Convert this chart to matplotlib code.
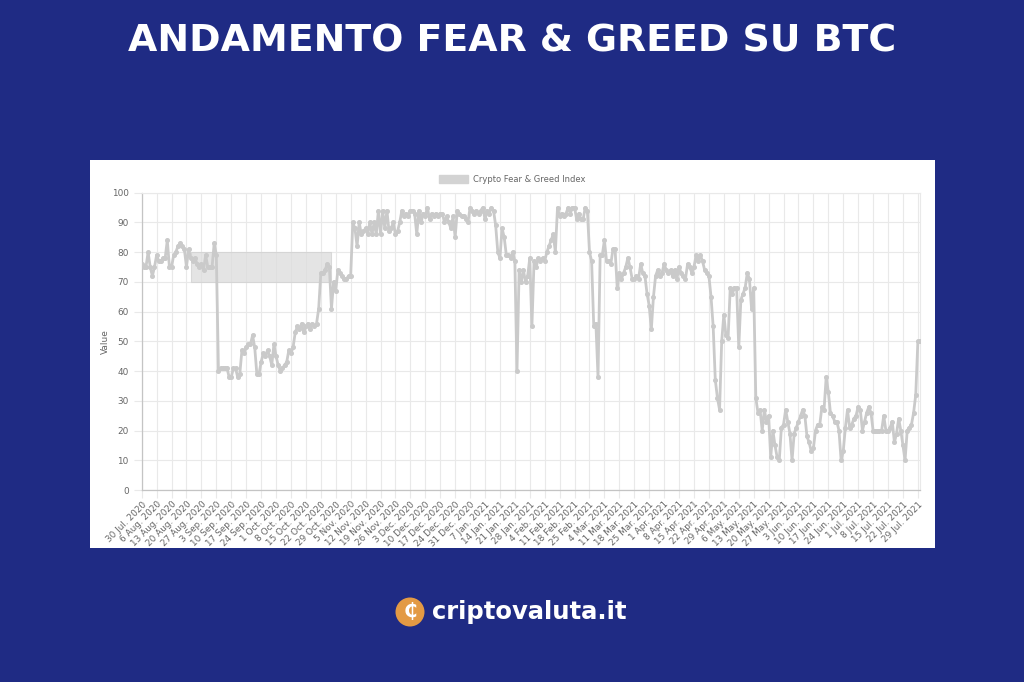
import pandas as pd
import matplotlib
matplotlib.use("Agg")
import matplotlib.pyplot as plt
from matplotlib.patches import Rectangle, Circle, Patch

# daily Fear & Greed values, 30 Jul 2020 -> 30 Jul 2021 (one row = one week)
start_date = "2020-07-30"
fng_values = [
    76, 75, 75, 80, 75, 72, 75,
    79, 77, 77, 78, 78, 84, 75,
    75, 79, 80, 82, 83, 82, 81,
    75, 81, 78, 77, 78, 76, 75,
    76, 74, 79, 75, 75, 75, 83,
    79, 40, 41, 41, 41, 41, 38,
    38, 41, 41, 38, 39, 47, 46,
    48, 49, 49, 52, 48, 39, 39,
    43, 46, 45, 47, 45, 42, 49,
    45, 42, 40, 41, 42, 43, 47,
    46, 48, 53, 55, 54, 56, 53,
    55, 56, 54, 56, 55, 56, 61,
    73, 73, 74, 76, 75, 61, 70,
    67, 74, 73, 72, 71, 71, 72,
    72, 90, 88, 82, 90, 86, 87,
    88, 86, 90, 86, 90, 86, 94,
    86, 94, 88, 94, 87, 88, 90,
    86, 87, 90, 94, 92, 93, 92,
    94, 94, 93, 86, 94, 90, 93,
    92, 95, 91, 93, 92, 93, 92,
    93, 93, 90, 92, 90, 88, 92,
    85, 94, 93, 92, 92, 91, 90,
    95, 94, 93, 94, 93, 94, 95,
    91, 94, 93, 95, 94, 89, 80,
    78, 88, 85, 79, 79, 78, 80,
    77, 40, 74, 70, 74, 70, 72,
    78, 55, 77, 75, 78, 77, 78,
    77, 80, 82, 84, 86, 80, 95,
    92, 93, 92, 93, 95, 93, 95,
    95, 91, 93, 91, 91, 95, 94,
    80, 77, 55, 56, 38, 79, 79,
    84, 77, 77, 76, 81, 81, 68,
    73, 71, 73, 75, 78, 75, 71,
    71, 72, 71, 76, 73, 72, 66,
    62, 54, 65, 72, 74, 72, 73,
    76, 74, 73, 74, 72, 74, 71,
    75, 73, 72, 71, 76, 75, 73,
    75, 79, 77, 79, 77, 74, 73,
    72, 65, 55, 37, 31, 27, 50,
    59, 52, 51, 68, 66, 68, 68,
    48, 64, 66, 68, 73, 71, 61,
    68, 31, 26, 27, 20, 27, 23,
    25, 11, 20, 15, 11, 10, 21,
    22, 27, 23, 19, 10, 19, 21,
    23, 25, 27, 25, 18, 16, 13,
    14, 20, 22, 22, 28, 27, 38,
    33, 26, 25, 23, 23, 20, 10,
    13, 21, 27, 21, 22, 24, 25,
    28, 27, 20, 23, 26, 28, 26,
    20, 20, 20, 20, 20, 25, 20,
    20, 21, 23, 16, 19, 24, 20,
    15, 10, 20, 21, 22, 26, 32,
    50, 50,
]
dates = pd.date_range(start_date, periods=len(fng_values), freq="D")

# weekly tick labels
tick_dates = pd.date_range("2020-07-30", "2021-07-29", freq="7D")
tick_labels = [f"{d.day} {d.strftime('%b')}. {d.year}" for d in tick_dates]

# grey box left on the chart (from the screenshot)
box_start = pd.Timestamp("2020-08-22")
box_end = pd.Timestamp("2020-10-27")
box_low, box_high = 70, 80

title = "ANDAMENTO FEAR & GREED SU BTC"
series_name = "Crypto Fear & Greed Index"
brand = "criptovaluta.it"

bg = "#1f2b84"
line_grey = "#cacaca"
grid_grey = "#e9e9e9"
text_grey = "#666666"

fig = plt.figure(figsize=(10.24, 6.82), dpi=100, facecolor=bg)

# white card behind the chart
card = Rectangle((90 / 1024, 1 - 548 / 682), 845 / 1024, 388 / 682,
                 transform=fig.transFigure, facecolor="white", edgecolor="none", zorder=0)
fig.add_artist(card)

ax = fig.add_axes([141.7 / 1024, 1 - 490 / 682, (920 - 141.7) / 1024, (490 - 192.7) / 682])
ax.set_facecolor("white")
ax.set_zorder(2)

ax.add_patch(Rectangle((box_start, box_low), box_end - box_start, box_high - box_low,
                       facecolor="#dcdcdc", edgecolor="#d0d0d0", alpha=0.75, lw=0.8, zorder=1))

ax.plot(dates, fng_values, color=line_grey, lw=2.0, marker="o", ms=2.6,
        markerfacecolor=line_grey, markeredgecolor=line_grey, zorder=3)

ax.set_xlim(dates[0], dates[-1])
ax.set_ylim(0, 100)
ax.set_yticks(range(0, 101, 10))
ax.set_xticks(tick_dates)
ax.set_xticklabels(tick_labels, rotation=45, ha="right", rotation_mode="anchor")
ax.tick_params(axis="both", labelsize=6.4, labelcolor=text_grey, color=grid_grey, length=6, width=0.8)
ax.tick_params(axis="x", pad=1)
ax.grid(True, color=grid_grey, lw=0.8)
ax.set_axisbelow(True)
for side in ["top", "right"]:
    ax.spines[side].set_color(grid_grey)
for side in ["left", "bottom"]:
    ax.spines[side].set_color("#c4c4c4")
    ax.spines[side].set_linewidth(0.9)

ax.set_ylabel("Value", fontsize=6.5, color=text_grey, labelpad=1)

leg = ax.legend(handles=[Patch(facecolor="#d3d3d3", edgecolor="#d3d3d3", label=series_name)],
                loc="lower center", bbox_to_anchor=(0.476, 1.005), frameon=False,
                fontsize=6, handlelength=3.5, handleheight=1.0, handletextpad=0.6)
for t in leg.get_texts():
    t.set_color(text_grey)

fig.text(0.5, 1 - 42 / 682, title, ha="center", va="center", color="white",
         fontsize=27.3, fontweight="bold", family="DejaVu Sans")

# logo at the bottom
coin = Circle((4.10, 6.82 - 6.12), 0.145, transform=fig.dpi_scale_trans,
              facecolor="#e39a44", edgecolor="none")
fig.add_artist(coin)
fig.text(4.10 / 10.24, 1 - 612 / 682, "\u20b5", ha="center", va="center", color="white",
         fontsize=14, fontweight="bold", family="DejaVu Sans")
fig.text(432 / 1024, 1 - 612 / 682, brand, ha="left", va="center", color="white",
         fontsize=17.5, fontweight="bold", family="DejaVu Sans")

fig.savefig("out.png", dpi=100, facecolor=bg)
